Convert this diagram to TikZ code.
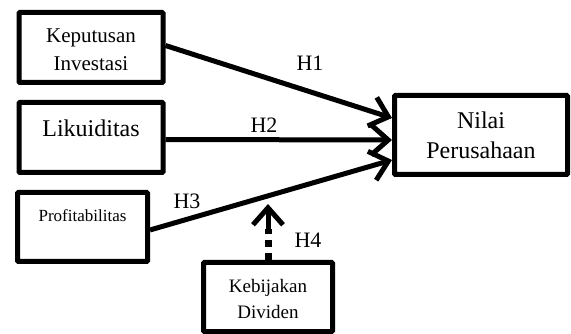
\documentclass[tikz,border=0pt]{standalone}
\usepackage{fontspec}
\setmainfont{Liberation Serif}
\usetikzlibrary{calc, arrows.meta}

\tikzset{
    varbox/.style={draw, line width=5pt, rounded corners=1pt, inner sep=0pt},
    hlabel/.style={font=\fontsize{22}{24}\selectfont},
    hyparrow/.style={line width=5pt, -{Straight Barb[length=17pt, width=30pt, line width=5pt]}}
}

\begin{document}
\begin{tikzpicture}[x=1pt, y=-1pt]
        \useasboundingbox (0,0) rectangle (571,334);
        % boxes
        \node[varbox, minimum width=144pt, minimum height=70pt] (kep) at (91,47.5) {};
        \node[varbox, minimum width=144pt, minimum height=70pt] (liku) at (91,137.5) {};
        \node[varbox, minimum width=130pt, minimum height=69pt] (prof) at (82.5,227) {};
        \node[varbox, minimum width=129pt, minimum height=69pt] (div) at (268,297) {};
        \node[varbox, minimum width=173pt, minimum height=79pt] (nilai) at (481,135) {};
        % texts
        \node[align=center, font=\fontsize{21}{28}\selectfont] (keptxt) at (91,50) {Keputusan\\Investasi};
        \node[font=\fontsize{24}{28}\selectfont] (likutxt) at (91,128) {Likuiditas};
        \node[font=\fontsize{17}{20}\selectfont] (proftxt) at (82.5,216) {Profitabilitas};
        \node[align=center, font=\fontsize{19}{26}\selectfont] (divtxt) at (268,299) {Kebijakan\\Dividen};
        \node[align=center, font=\fontsize{24}{30}\selectfont] (nilaitxt) at (481,135) {Nilai\\Perusahaan};
        % arrow ends
        \coordinate (e1) at ($(nilai.west)+(0,-17)$);
        \coordinate (e2) at ($(nilai.west)+(0,5)$);
        \coordinate (e3) at ($(nilai.west)+(0,25)$);
        \coordinate (e4) at (268,204);
        \draw[hyparrow] ($(kep.east)+(0,-2)$) -- (e1);
        \draw[hyparrow] ($(liku.east)+(0,2)$) -- (e2);
        \draw[hyparrow] ($(prof.east)+(0,3)$) -- (e3);
        \draw[line width=7pt, dash pattern=on 7pt off 6pt] (div.north) -- ($(e4)+(0,25)$);
        \draw[hyparrow] ($(e4)+(0,26)$) -- (e4);
        % labels
        \node[hlabel] (h1) at (310,63) {H1};
        \node[hlabel] (h2) at (264,125) {H2};
        \node[hlabel] (h3) at (187,201) {H3};
        \node[hlabel] (h4) at (308,240) {H4};
    \end{tikzpicture}
\end{document}
